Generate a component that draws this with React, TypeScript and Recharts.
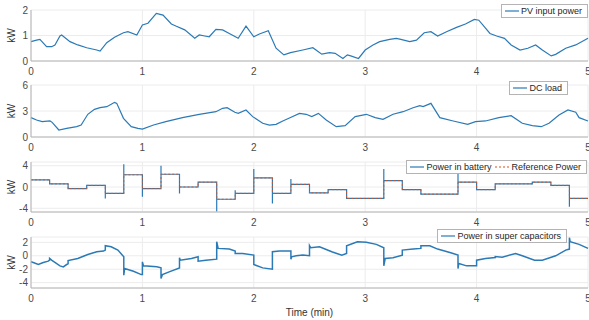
import React from "react";
import {
  LineChart,
  Line,
  XAxis,
  YAxis,
  CartesianGrid,
  Legend,
  Label,
} from "recharts";

// time axis (min)
const timeTicks = [0, 1, 2, 3, 4, 5];

// PV input power (kW)
const pvTime = [0, 0.05, 0.08, 0.14, 0.185, 0.215, 0.26, 0.275, 0.35, 0.42, 0.5, 0.59, 0.62, 0.68, 0.75, 0.83, 0.87, 0.95, 1.0, 1.05, 1.125, 1.185, 1.26, 1.3, 1.38, 1.47, 1.51, 1.56, 1.6, 1.66, 1.72, 1.78, 1.86, 1.93, 2.0, 2.05, 2.13, 2.2, 2.27, 2.33, 2.44, 2.53, 2.61, 2.68, 2.73, 2.8, 2.84, 2.87, 2.94, 3.0, 3.07, 3.13, 3.22, 3.28, 3.32, 3.4, 3.46, 3.53, 3.59, 3.65, 3.73, 3.82, 3.9, 3.98, 4.02, 4.12, 4.18, 4.25, 4.31, 4.39, 4.46, 4.53, 4.59, 4.67, 4.71, 4.8, 4.89, 5.0];
const pvKw = [0.76, 0.82, 0.85, 0.56, 0.56, 0.63, 0.98, 1.02, 0.76, 0.63, 0.52, 0.43, 0.39, 0.72, 0.93, 1.11, 1.15, 1.02, 1.41, 1.48, 1.87, 1.8, 1.45, 1.37, 1.22, 0.89, 1.02, 0.98, 0.95, 1.24, 1.22, 1.08, 0.89, 1.37, 0.95, 1.06, 1.19, 0.5, 0.24, 0.33, 0.43, 0.52, 0.27, 0.33, 0.3, 0.1, 0.24, 0.2, 0.1, 0.43, 0.63, 0.76, 0.85, 0.89, 0.85, 0.76, 0.82, 1.11, 1.15, 0.98, 1.15, 1.32, 1.45, 1.63, 1.6, 1.08, 0.98, 0.89, 0.63, 0.43, 0.5, 0.63, 0.43, 0.2, 0.26, 0.5, 0.63, 0.89];

// DC load (kW)
const loadTime = [0, 0.05, 0.1, 0.17, 0.19, 0.25, 0.32, 0.41, 0.45, 0.51, 0.57, 0.62, 0.68, 0.72, 0.75, 0.77, 0.83, 0.9, 0.96, 1.0, 1.1, 1.21, 1.36, 1.51, 1.66, 1.72, 1.76, 1.83, 1.86, 1.93, 1.99, 2.08, 2.14, 2.2, 2.26, 2.32, 2.41, 2.47, 2.52, 2.58, 2.65, 2.74, 2.82, 2.91, 3.01, 3.09, 3.16, 3.25, 3.34, 3.43, 3.49, 3.52, 3.59, 3.67, 3.79, 3.92, 3.99, 4.08, 4.2, 4.31, 4.41, 4.5, 4.58, 4.65, 4.74, 4.82, 4.89, 4.92, 5.0];
const loadKw = [2.23, 1.96, 1.77, 1.85, 1.69, 0.81, 1.0, 1.19, 1.38, 2.62, 3.19, 3.38, 3.5, 3.77, 4.0, 3.88, 2.15, 1.19, 1.0, 0.92, 1.38, 1.77, 2.23, 2.62, 2.92, 3.31, 3.38, 2.85, 2.73, 3.12, 2.35, 1.58, 1.38, 1.46, 1.85, 2.2, 2.73, 2.62, 2.35, 2.73, 1.96, 1.19, 1.31, 2.35, 2.62, 2.23, 2.04, 2.62, 2.92, 3.38, 3.62, 3.5, 3.88, 2.23, 1.85, 1.46, 1.77, 1.85, 2.23, 2.46, 1.58, 1.31, 1.19, 1.58, 2.54, 3.12, 2.85, 2.23, 1.85];

// Reference power: one level per 10 s step
const stepTime = [0, 0.167, 0.333, 0.5, 0.667, 0.833, 1.0, 1.167, 1.333, 1.5, 1.667, 1.833, 2.0, 2.167, 2.333, 2.5, 2.667, 2.833, 3.0, 3.167, 3.333, 3.5, 3.667, 3.833, 4.0, 4.167, 4.333, 4.5, 4.667, 4.833, 5.0];
const refKw = [1.35, 0.6, -0.3, 0.3, -1.2, 2.3, -0.3, 2.4, 0, 0.9, -2.3, -1.2, 1.7, -1.2, 0.5, -1.1, -0.5, -2.15, -2.15, 1.2, -0.5, -1.35, -1.35, 0.9, -0.5, 0.6, 0.6, 0.9, 0.3, -2.15];
// Battery overshoot at some step changes
const spikeStep = [4, 5, 6, 7, 8, 10, 11, 12, 13, 14, 19, 23, 29];
const spikeKw = [-2.15, 4.3, -1.85, 4.0, -1.2, -4.6, -0.6, 3.4, -3.1, 1.5, 3.4, 2.5, -3.7];

// Power in super capacitors (kW)
const capTime = [0, 0.02, 0.066, 0.11, 0.155, 0.167, 0.167, 0.185, 0.26, 0.29, 0.32, 0.333, 0.333, 0.42, 0.51, 0.59, 0.65, 0.667, 0.667, 0.72, 0.78, 0.833, 0.833, 0.84, 0.92, 0.99, 1.0, 1.0, 1.01, 1.13, 1.167, 1.167, 1.18, 1.24, 1.333, 1.333, 1.34, 1.44, 1.5, 1.5, 1.57, 1.667, 1.667, 1.68, 1.78, 1.833, 1.833, 1.9, 2.0, 2.0, 2.08, 2.167, 2.167, 2.23, 2.333, 2.333, 2.34, 2.38, 2.44, 2.5, 2.5, 2.51, 2.59, 2.7, 2.79, 2.833, 2.833, 2.93, 3.01, 3.1, 3.167, 3.167, 3.18, 3.25, 3.333, 3.333, 3.43, 3.5, 3.5, 3.58, 3.65, 3.76, 3.833, 3.833, 3.84, 3.91, 4.0, 4.0, 4.08, 4.167, 4.167, 4.23, 4.35, 4.41, 4.52, 4.59, 4.71, 4.8, 4.833, 4.833, 4.84, 4.92, 5.0];
const capKw = [-0.9, -1.0, -1.3, -1.0, -0.8, -0.65, -0.4, -0.65, -1.5, -1.65, -1.3, -1.2, -0.7, -0.4, 0.2, 0.6, 0.7, 0.85, 1.5, 1.35, 0.85, -0.15, -2.9, -1.9, -2.3, -2.8, -2.8, -0.9, -1.5, -1.65, -1.8, -3.4, -2.8, -2.4, -1.8, -0.3, -0.65, -0.4, -0.15, -0.8, -0.65, -0.5, 2.1, 1.1, 1.0, 0.7, 0.35, 0.35, 0.1, -1.3, -1.8, -2.0, 0.6, 0.7, 0.7, -0.5, -0.15, 0, 0.1, 0, 1.5, 1.2, 1.35, 0.6, 0.1, 0.35, 1.5, 2.1, 2.0, 1.7, 1.2, -1.5, -0.4, -0.3, 0.1, 0.85, 1.0, 1.1, 1.5, 1.5, 1.0, 0.5, 0.1, -1.9, -1.15, -1.5, -1.5, -0.65, -0.4, -0.25, -0.1, -0.2, 0.35, 0, -0.65, -0.65, 0, 0.85, 1.0, 2.7, 2.1, 1.7, 1.1];

const pvData = pvTime.map((t, i) => ({ t, v: pvKw[i] }));
const loadData = loadTime.map((t, i) => ({ t, v: loadKw[i] }));
const capData = capTime.map((t, i) => ({ t, v: capKw[i] }));
const refData = [
  ...refKw.map((v, i) => ({ t: stepTime[i], v })),
  { t: stepTime[stepTime.length - 1], v: refKw[refKw.length - 1] },
];
const batteryData: { t: number; v: number }[] = [];
refKw.forEach((v, i) => {
  const s = spikeStep.indexOf(i);
  if (s >= 0) batteryData.push({ t: stepTime[i], v: spikeKw[s] });
  batteryData.push({ t: stepTime[i], v });
  batteryData.push({ t: stepTime[i + 1], v });
});

const FONT = '"Liberation Sans", Arial, Helvetica, sans-serif';
const AXIS = "#b4b4b4";
const GRID = "#ececec";
const TEXT = "#4a4a4a";
const BLUE = "#2b7ab6";
const ORANGE = "#d95319";

type Item = { label: string; color: string; dash?: string };

function LegendBox({ items }: { items: Item[] }) {
  return (
    <div
      style={{
        display: "flex",
        background: "#fff",
        border: `1px solid ${AXIS}`,
        padding: "0 2px",
        fontSize: 9,
        lineHeight: "12px",
        color: "#262626",
        whiteSpace: "nowrap",
        fontFamily: FONT,
      }}
    >
      {items.map((it) => (
        <span key={it.label} style={{ display: "flex", alignItems: "center", marginRight: 3 }}>
          <svg width={16} height={6}>
            <line x1={1} y1={3} x2={15} y2={3} stroke={it.color} strokeWidth={1.2} strokeDasharray={it.dash} />
          </svg>
          <span style={{ marginLeft: 1 }}>{it.label}</span>
        </span>
      ))}
    </div>
  );
}

function Panel(props: {
  top: number;
  height: number;
  marginTop: number;
  xHeight: number;
  yDomain: [number, number];
  yTicks: number[];
  legend: Item[];
  legendTop: number;
  legendRight: number;
  xLabel?: string;
  children: React.ReactNode;
}) {
  return (
    <div style={{ position: "absolute", left: 0, top: props.top }}>
      <LineChart
        width={589}
        height={props.height}
        margin={{ top: props.marginTop, right: 1, left: 0, bottom: 0 }}
        style={{ fontFamily: FONT }}
      >
        <CartesianGrid stroke={GRID} />
        <XAxis
          dataKey="t"
          type="number"
          domain={[0, 5]}
          ticks={timeTicks}
          interval={0}
          height={props.xHeight}
          tickSize={0}
          tickMargin={7}
          axisLine={{ stroke: AXIS }}
          tick={{ fill: TEXT, fontSize: 10 }}
        >
          {props.xLabel && (
            <Label value={props.xLabel} position="insideBottom" offset={4} style={{ fill: "#333", fontSize: 10 }} />
          )}
        </XAxis>
        <XAxis xAxisId="top" orientation="top" type="number" domain={[0, 5]} height={0} tick={false} tickLine={false} axisLine={{ stroke: AXIS }} />
        <YAxis
          type="number"
          domain={props.yDomain}
          ticks={props.yTicks}
          interval={0}
          width={31}
          tickSize={0}
          tickMargin={3}
          axisLine={{ stroke: AXIS }}
          tick={{ fill: TEXT, fontSize: 10 }}
          allowDataOverflow
        >
          <Label
            value="kW"
            angle={-90}
            position="insideLeft"
            offset={11}
            style={{ textAnchor: "middle", fill: "#333", fontSize: 10 }}
          />
        </YAxis>
        <YAxis yAxisId="r" orientation="right" type="number" domain={[0, 1]} width={0} tick={false} tickLine={false} axisLine={{ stroke: AXIS }} />
        {props.children}
        <Legend
          layout="horizontal"
          align="center"
          verticalAlign="middle"
          content={() => <LegendBox items={props.legend} />}
          wrapperStyle={{ top: props.legendTop, right: props.legendRight, left: "auto", width: "auto", height: "auto" }}
        />
      </LineChart>
    </div>
  );
}

export default function App() {
  return (
    <div style={{ position: "absolute", left: 0, top: 0, width: 589, height: 320, background: "#fff" }}>
      <Panel top={0} height={85} marginTop={10} xHeight={24} yDomain={[0, 2]} yTicks={[0, 1, 2]}
        legend={[{ label: "PV input power", color: BLUE }]} legendTop={4} legendRight={1}>
        <Line data={pvData} dataKey="v" stroke={BLUE} strokeWidth={1.2} dot={false} isAnimationActive={false} />
      </Panel>
      <Panel top={76} height={85} marginTop={9} xHeight={24} yDomain={[0, 6]} yTicks={[0, 3, 6]}
        legend={[{ label: "DC load", color: BLUE }]} legendTop={5} legendRight={21}>
        <Line data={loadData} dataKey="v" stroke={BLUE} strokeWidth={1.2} dot={false} isAnimationActive={false} />
      </Panel>
      <Panel top={152} height={84} marginTop={10} xHeight={24} yDomain={[-4.7, 4.7]} yTicks={[-4, 0, 4]}
        legend={[{ label: "Power in battery", color: BLUE }, { label: "Reference Power", color: ORANGE, dash: "2 2" }]}
        legendTop={8} legendRight={2}>
        <Line data={batteryData} dataKey="v" stroke={BLUE} strokeWidth={1.2} dot={false} isAnimationActive={false} />
        <Line data={refData} dataKey="v" type="stepAfter" stroke={ORANGE} strokeWidth={0.9} strokeDasharray="2 2" dot={false} isAnimationActive={false} />
      </Panel>
      <Panel top={227} height={93} marginTop={10} xHeight={32} yDomain={[-4.8, 2.8]} yTicks={[-4, -2, 0, 2]}
        legend={[{ label: "Power in super capacitors", color: BLUE }]} legendTop={2} legendRight={22} xLabel="Time (min)">
        <Line data={capData} dataKey="v" stroke={BLUE} strokeWidth={1.5} dot={false} isAnimationActive={false} />
      </Panel>
    </div>
  );
}
